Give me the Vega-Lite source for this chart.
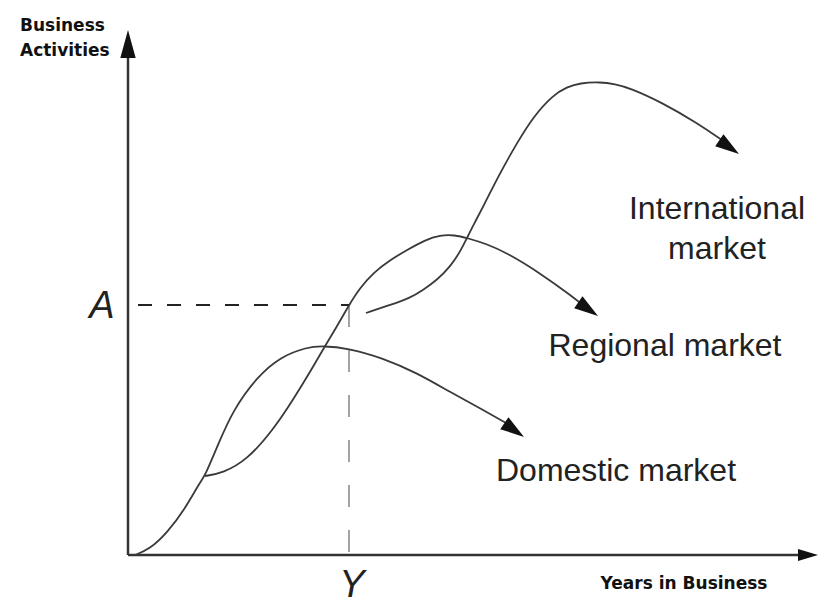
{
  "$schema": "https://vega.github.io/schema/vega-lite/v6.json",
  "width": 821,
  "height": 609,
  "autosize": {"type": "none"},
  "padding": 0,
  "background": "white",
  "config": {"view": {"stroke": null}},
  "datasets": {
    "curves": [
      {"series": "Domestic market", "order": 1, "x": 7, "y": 0},
      {"series": "Domestic market", "order": 2, "x": 22, "y": 6},
      {"series": "Domestic market", "order": 3, "x": 39, "y": 22},
      {"series": "Domestic market", "order": 4, "x": 57, "y": 46},
      {"series": "Domestic market", "order": 5, "x": 72, "y": 73},
      {"series": "Domestic market", "order": 6, "x": 77, "y": 79},
      {"series": "Domestic market", "order": 7, "x": 89, "y": 108},
      {"series": "Domestic market", "order": 8, "x": 105, "y": 145},
      {"series": "Domestic market", "order": 9, "x": 129, "y": 178},
      {"series": "Domestic market", "order": 10, "x": 152, "y": 198},
      {"series": "Domestic market", "order": 11, "x": 179, "y": 208},
      {"series": "Domestic market", "order": 12, "x": 195, "y": 209},
      {"series": "Domestic market", "order": 13, "x": 219, "y": 207},
      {"series": "Domestic market", "order": 14, "x": 255, "y": 197},
      {"series": "Domestic market", "order": 15, "x": 289, "y": 182},
      {"series": "Domestic market", "order": 16, "x": 322, "y": 163},
      {"series": "Domestic market", "order": 17, "x": 355, "y": 145},
      {"series": "Domestic market", "order": 18, "x": 380, "y": 131},
      {"series": "Regional market", "order": 1, "x": 77, "y": 79},
      {"series": "Regional market", "order": 2, "x": 95, "y": 82},
      {"series": "Regional market", "order": 3, "x": 119, "y": 95},
      {"series": "Regional market", "order": 4, "x": 145, "y": 125},
      {"series": "Regional market", "order": 5, "x": 165, "y": 155},
      {"series": "Regional market", "order": 6, "x": 185, "y": 188},
      {"series": "Regional market", "order": 7, "x": 197, "y": 209},
      {"series": "Regional market", "order": 8, "x": 208, "y": 227},
      {"series": "Regional market", "order": 9, "x": 221, "y": 250},
      {"series": "Regional market", "order": 10, "x": 232, "y": 267},
      {"series": "Regional market", "order": 11, "x": 245, "y": 282},
      {"series": "Regional market", "order": 12, "x": 262, "y": 295},
      {"series": "Regional market", "order": 13, "x": 279, "y": 305},
      {"series": "Regional market", "order": 14, "x": 297, "y": 315},
      {"series": "Regional market", "order": 15, "x": 312, "y": 320},
      {"series": "Regional market", "order": 16, "x": 327, "y": 320},
      {"series": "Regional market", "order": 17, "x": 339, "y": 317},
      {"series": "Regional market", "order": 18, "x": 359, "y": 311},
      {"series": "Regional market", "order": 19, "x": 379, "y": 302},
      {"series": "Regional market", "order": 20, "x": 412, "y": 282},
      {"series": "Regional market", "order": 21, "x": 445, "y": 258},
      {"series": "Regional market", "order": 22, "x": 456, "y": 249},
      {"series": "International market", "order": 1, "x": 238, "y": 242},
      {"series": "International market", "order": 2, "x": 262, "y": 250},
      {"series": "International market", "order": 3, "x": 282, "y": 257},
      {"series": "International market", "order": 4, "x": 295, "y": 265},
      {"series": "International market", "order": 5, "x": 309, "y": 275},
      {"series": "International market", "order": 6, "x": 322, "y": 288},
      {"series": "International market", "order": 7, "x": 332, "y": 303},
      {"series": "International market", "order": 8, "x": 339, "y": 317},
      {"series": "International market", "order": 9, "x": 347, "y": 333},
      {"series": "International market", "order": 10, "x": 355, "y": 348},
      {"series": "International market", "order": 11, "x": 372, "y": 382},
      {"series": "International market", "order": 12, "x": 389, "y": 412},
      {"series": "International market", "order": 13, "x": 405, "y": 438},
      {"series": "International market", "order": 14, "x": 425, "y": 460},
      {"series": "International market", "order": 15, "x": 439, "y": 468},
      {"series": "International market", "order": 16, "x": 452, "y": 472},
      {"series": "International market", "order": 17, "x": 472, "y": 473},
      {"series": "International market", "order": 18, "x": 487, "y": 471},
      {"series": "International market", "order": 19, "x": 502, "y": 467},
      {"series": "International market", "order": 20, "x": 535, "y": 452},
      {"series": "International market", "order": 21, "x": 569, "y": 432},
      {"series": "International market", "order": 22, "x": 594, "y": 415}
    ],
    "curveTips": [
      {"series": "Domestic market", "x": 396, "y": 118},
      {"series": "Regional market", "x": 470, "y": 239},
      {"series": "International market", "x": 611, "y": 401}
    ],
    "axisLines": [
      {"axis": "Business Activities", "x": 0, "y": 0, "x2": 0, "y2": 500},
      {"axis": "Years in Business", "x": 0, "y": 0, "x2": 672, "y2": 0}
    ],
    "yTip": [{"axis": "Business Activities", "x": 0, "y": 525}],
    "xTip": [{"axis": "Years in Business", "x": 690, "y": 0}],
    "levelA": [{"mark": "A", "x": 10, "y": 250, "x2": 221, "y2": 250}],
    "levelY": [{"mark": "Y", "x": 221, "y": 250, "x2": 221, "y2": 0}],
    "bigLabels": [
      {"label": "International\nmarket", "x": 589, "y": 346},
      {"label": "Regional market", "x": 537, "y": 209},
      {"label": "Domestic market", "x": 488, "y": 84}
    ],
    "letters": [
      {"label": "A", "x": -26, "y": 248},
      {"label": "Y", "x": 224, "y": -31}
    ],
    "yTitle": [{"label": "Business\nActivities", "x": -108, "y": 529}],
    "xTitle": [{"label": "Years in Business", "x": 556, "y": -29}]
  },
  "encoding": {
    "x": {"field": "x", "type": "quantitative", "scale": {"domain": [-128, 693], "nice": false, "zero": false}, "axis": null},
    "y": {"field": "y", "type": "quantitative", "scale": {"domain": [-54, 555], "nice": false, "zero": false}, "axis": null}
  },
  "layer": [
    {
      "data": {"name": "levelA"},
      "mark": {"type": "rule", "color": "#222", "strokeWidth": 2.2, "strokeDash": [14, 15]},
      "encoding": {"x2": {"field": "x2"}, "y2": {"field": "y2"}}
    },
    {
      "data": {"name": "levelY"},
      "mark": {"type": "rule", "color": "#999", "strokeWidth": 1.8, "strokeDash": [22, 23]},
      "encoding": {"x2": {"field": "x2"}, "y2": {"field": "y2"}}
    },
    {
      "data": {"name": "axisLines"},
      "mark": {"type": "rule", "color": "#333", "strokeWidth": 2.5},
      "encoding": {"x2": {"field": "x2"}, "y2": {"field": "y2"}}
    },
    {
      "data": {"name": "curves"},
      "mark": {"type": "line", "color": "#3a3a3a", "strokeWidth": 1.8, "interpolate": "basis"},
      "encoding": {
        "detail": {"field": "series"},
        "order": {"field": "order", "type": "quantitative"}
      }
    },
    {
      "data": {"name": "curveTips"},
      "mark": {"type": "point", "shape": "M0,0L0.6,2L-0.6,2Z", "size": 576, "angle": 125, "filled": true, "opacity": 1, "color": "#111", "strokeWidth": 0}
    },
    {
      "data": {"name": "yTip"},
      "mark": {"type": "point", "shape": "M0,0L0.55,2L-0.55,2Z", "size": 784, "angle": 0, "filled": true, "opacity": 1, "color": "#111", "strokeWidth": 0}
    },
    {
      "data": {"name": "xTip"},
      "mark": {"type": "point", "shape": "M0,0L0.6,2L-0.6,2Z", "size": 400, "angle": 90, "filled": true, "opacity": 1, "color": "#111", "strokeWidth": 0}
    },
    {
      "data": {"name": "bigLabels"},
      "mark": {"type": "text", "font": "Liberation Sans", "fontSize": 32, "color": "#222", "align": "center", "baseline": "middle", "lineBreak": "\n", "lineHeight": 40},
      "encoding": {"text": {"field": "label"}}
    },
    {
      "data": {"name": "letters"},
      "mark": {"type": "text", "font": "Liberation Sans", "fontSize": 38, "fontStyle": "italic", "color": "#222", "align": "center", "baseline": "middle"},
      "encoding": {"text": {"field": "label"}}
    },
    {
      "data": {"name": "yTitle"},
      "mark": {"type": "text", "font": "DejaVu Sans", "fontWeight": "bold", "fontSize": 17, "color": "#111", "align": "left", "baseline": "middle", "lineBreak": "\n", "lineHeight": 25},
      "encoding": {"text": {"field": "label"}}
    },
    {
      "data": {"name": "xTitle"},
      "mark": {"type": "text", "font": "DejaVu Sans", "fontWeight": "bold", "fontSize": 17, "color": "#111", "align": "center", "baseline": "middle"},
      "encoding": {"text": {"field": "label"}}
    }
  ]
}
